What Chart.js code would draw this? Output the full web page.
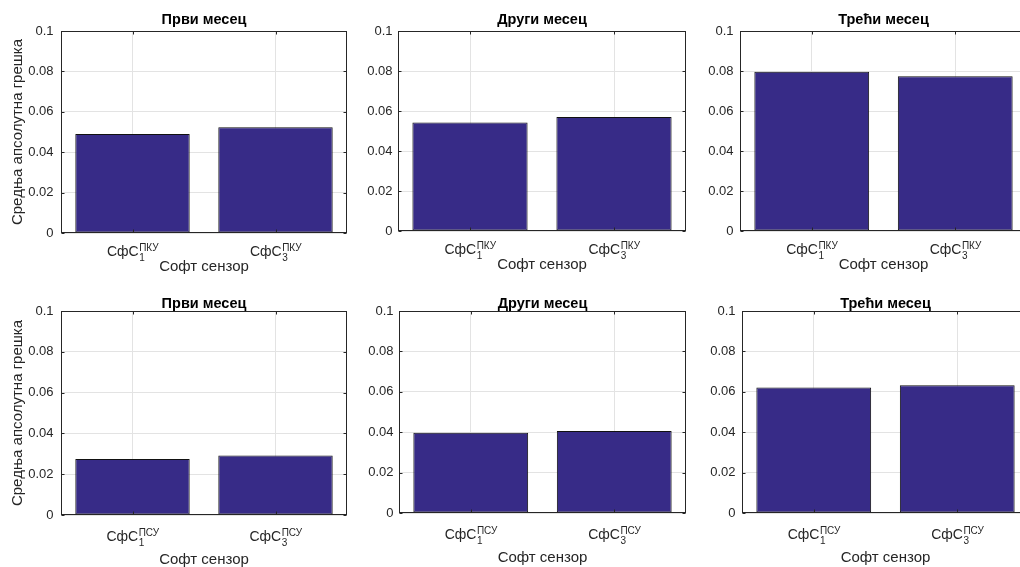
<!DOCTYPE html>
<html>
<head>
<meta charset="utf-8">
<title>Средња апсолутна грешка</title>
<script src="https://cdn.jsdelivr.net/npm/chart.js@4.4.1/dist/chart.umd.min.js"></script>
<style>
  html, body { margin: 0; padding: 0; background: #fff; overflow: hidden; }
  #wrap { position: relative; width: 1020px; height: 567px; overflow: hidden; }
  #wrap canvas { position: absolute; }
</style>
</head>
<body>
<div id="wrap"></div>
<script>
const monthTitles = ['Први месец', 'Други месец', 'Трећи месец'];
const sensorsPKU = ['СфС_1^{ПКУ}', 'СфС_3^{ПКУ}'];
const sensorsPSU = ['СфС_1^{ПСУ}', 'СфС_3^{ПСУ}'];
// mean absolute error per month, one row per month
const maePKU = [
  [0.0490, 0.0523],
  [0.0543, 0.0570],
  [0.0796, 0.0774]
];
const maePSU = [
  [0.0275, 0.0292],
  [0.0397, 0.0406],
  [0.0621, 0.0632]
];
const yTicks = [0, 0.02, 0.04, 0.06, 0.08, 0.1];
const yTitle = 'Средња апсолутна грешка';
const xTitle = 'Софт сензор';

const FONT = '"Liberation Sans", Arial, Helvetica, sans-serif';
const INK = '#262626';
const GRID = '#e3e3e3';
const BAR = '#372b87';

// canvas per column/row and the plot box of every panel (page pixels)
const cols = [{x: 0, w: 350}, {x: 350, w: 340}, {x: 690, w: 350}];
const rows = [
  {y: 0, h: 285, titleMid: 20, labelBase: 22.5, xTitleGap: 33.5},
  {y: 285, h: 300, titleMid: 304, labelBase: 25.5, xTitleGap: 44.5}
];
const plots = [
  [{l: 61, r: 347, t: 31, b: 233, pad: 7.5}, {l: 398, r: 686, t: 31, b: 231, pad: 5.5}, {l: 740, r: 1027, t: 31, b: 231, pad: 6.5}],
  [{l: 61, r: 347, t: 311, b: 515, pad: 7.5}, {l: 399, r: 686, t: 311, b: 513, pad: 5.5}, {l: 742, r: 1029, t: 311, b: 513, pad: 6.5}]
];

// "СфС_1^{ПКУ}" -> base text with subscript and superscript stacked after it
function drawTexLabel(ctx, text, cx, base) {
  const m = text.match(/^([^_^]+)_([^^]+)\^\{?([^}]+)\}?$/);
  const main = m[1], sub = m[2], sup = m[3];
  ctx.font = '14px ' + FONT;
  const wMain = ctx.measureText(main).width;
  ctx.font = '10px ' + FONT;
  const wScript = Math.max(ctx.measureText(sub).width, ctx.measureText(sup).width);
  const x0 = cx - (wMain + wScript) / 2;
  ctx.textAlign = 'left';
  ctx.textBaseline = 'alphabetic';
  ctx.font = '14px ' + FONT;
  ctx.fillText(main, x0, base);
  ctx.font = '10px ' + FONT;
  ctx.fillText(sup, x0 + wMain + 0.5, base - 5);
  ctx.fillText(sub, x0 + wMain + 0.5, base + 5.5);
}

// box around the axes, inward tick marks and the category labels
const frame = {
  id: 'frame',
  afterDatasetsDraw(chart, args, opts) {
    const {ctx, chartArea: a, scales: {x, y}} = chart;
    const L = Math.round(a.left) + 0.5, R = Math.round(a.right) - 0.5;
    const T = Math.round(a.top) + 0.5, B = Math.round(a.bottom) - 0.5;
    ctx.save();
    ctx.strokeStyle = INK;
    ctx.lineWidth = 1;
    ctx.beginPath();
    y.ticks.forEach(t => {
      const py = Math.round(y.getPixelForValue(t.value)) + 0.5;
      ctx.moveTo(L, py); ctx.lineTo(L + 3, py);
      ctx.moveTo(R, py); ctx.lineTo(R - 3, py);
    });
    chart.data.labels.forEach((lab, i) => {
      const px = Math.round(x.getPixelForValue(i)) + 0.5;
      ctx.moveTo(px, B); ctx.lineTo(px, B - 3);
      ctx.moveTo(px, T); ctx.lineTo(px, T + 3);
    });
    ctx.stroke();
    ctx.strokeRect(L, T, R - L, B - T);
    ctx.fillStyle = INK;
    chart.data.labels.forEach((lab, i) => drawTexLabel(ctx, lab, x.getPixelForValue(i), x.top + opts.labelBase));
    ctx.restore();
  }
};

const wrap = document.getElementById('wrap');

rows.forEach((row, ri) => {
  cols.forEach((col, ci) => {
    const p = plots[ri][ci];
    const cv = document.createElement('canvas');
    cv.width = col.w;
    cv.height = row.h;
    cv.style.left = col.x + 'px';
    cv.style.top = row.y + 'px';
    wrap.appendChild(cv);

    const titlePadTop = row.titleMid - row.y - 6;

    new Chart(cv, {
      type: 'bar',
      data: {
        labels: ri === 0 ? sensorsPKU : sensorsPSU,
        datasets: [{
          data: (ri === 0 ? maePKU : maePSU)[ci],
          backgroundColor: BAR,
          borderColor: '#111111',
          borderWidth: 1,
          borderSkipped: false,
          barPercentage: 0.8,
          categoryPercentage: 1
        }]
      },
      options: {
        responsive: false,
        animation: false,
        devicePixelRatio: 1,
        layout: { padding: { left: 0, top: 0, bottom: 0, right: col.x + col.w - p.r } },
        plugins: {
          legend: { display: false },
          tooltip: { enabled: false },
          title: {
            display: true,
            text: monthTitles[ci],
            fullSize: false,
            color: '#000',
            font: { family: FONT, size: 14.5, weight: 'bold', lineHeight: '12px' },
            padding: { top: titlePadTop, bottom: p.t - row.y - 12 - titlePadTop }
          },
          frame: { labelBase: row.labelBase }
        },
        scales: {
          x: {
            grid: { color: GRID, offset: false, drawTicks: false },
            border: { display: false },
            ticks: { display: false },
            title: {
              display: true,
              text: xTitle,
              color: INK,
              font: { family: FONT, size: 15, lineHeight: '16px' },
              padding: { top: 0, bottom: row.y + row.h - p.b - row.xTitleGap - 8 }
            },
            afterFit: s => { s.height = row.y + row.h - p.b; }
          },
          y: {
            min: 0,
            max: 0.1,
            afterBuildTicks: s => { s.ticks = yTicks.map(v => ({ value: v })); },
            grid: { color: GRID, drawTicks: false },
            border: { display: false },
            ticks: {
              color: INK,
              padding: p.pad,
              font: { family: FONT, size: 13 },
              callback: v => String(+v.toFixed(2))
            },
            title: {
              display: ci === 0,
              text: yTitle,
              color: INK,
              font: { family: FONT, size: 15, lineHeight: '16px' },
              padding: { top: 10, bottom: 0 }
            },
            afterFit: s => { s.width = p.l - col.x; }
          }
        }
      },
      plugins: [frame]
    });
  });
});
</script>
</body>
</html>
